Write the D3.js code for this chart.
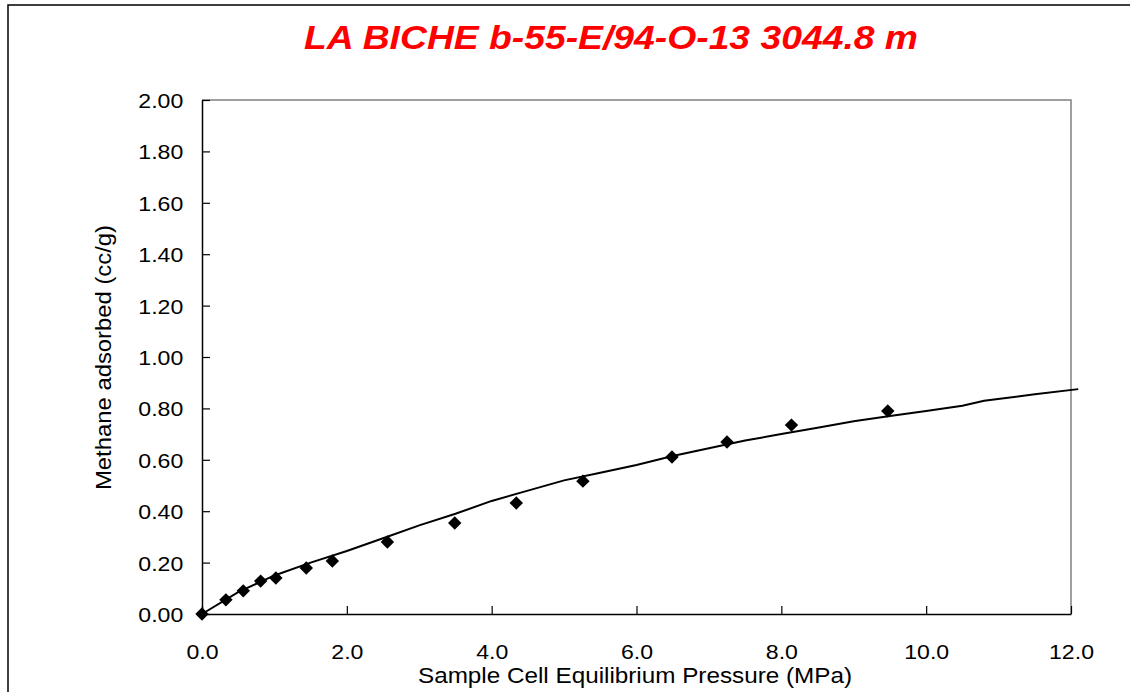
<!DOCTYPE html>
<html>
<head>
<meta charset="utf-8">
<script src="https://cdn.jsdelivr.net/npm/d3@7"></script>
<style>
  html, body { margin: 0; padding: 0; background: #fff; }
  svg { display: block; font-family: "Liberation Sans", Arial, sans-serif; }
</style>
</head>
<body>
<div id="chart"></div>
<script>
// measured isotherm points (pressure MPa, methane cc/g)
const pressure = [0, 0.33, 0.57, 0.81, 1.02, 1.44, 1.80, 2.56, 3.49, 4.34, 5.26, 6.49, 7.25, 8.14, 9.47];
const adsorbed = [0, 0.055, 0.09, 0.128, 0.14, 0.179, 0.206, 0.28, 0.354, 0.432, 0.517, 0.611, 0.669, 0.735, 0.79];

// fitted curve
const fitPressure = [0, 0.5, 1.0, 1.5, 2.0, 2.5, 3.0, 3.5, 4.0, 4.5, 5.0, 5.5, 6.0, 6.5, 7.0, 7.5, 8.0, 8.5, 9.0, 9.5, 10.0, 10.5, 10.8, 11.5, 12.1];
const fitAdsorbed = [0, 0.085, 0.15, 0.20, 0.245, 0.295, 0.345, 0.39, 0.44, 0.48, 0.52, 0.55, 0.58, 0.615, 0.645, 0.675, 0.70, 0.725, 0.75, 0.77, 0.79, 0.81, 0.83, 0.855, 0.875];

const xTicks = [0, 2, 4, 6, 8, 10, 12];
const yTicks = [0, 0.2, 0.4, 0.6, 0.8, 1.0, 1.2, 1.4, 1.6, 1.8, 2.0];

const titleText = "LA BICHE b-55-E/94-O-13 3044.8 m";
const xLabel = "Sample Cell Equilibrium Pressure (MPa)";
const yLabel = "Methane adsorbed (cc/g)";

const width = 1130, height = 692;
const plot = {left: 202, top: 100, right: 1071, bottom: 614};

// the original picture is a bit stretched sideways
const stretch = 1.1;

const svg = d3.select("#chart").append("svg")
  .attr("width", width)
  .attr("height", height);

// outer chart border (right and bottom fall off the page)
svg.append("rect")
  .attr("x", 8).attr("y", 5)
  .attr("width", 1140).attr("height", 700)
  .attr("fill", "none")
  .attr("stroke", "#000")
  .attr("stroke-width", 1.5);

const x = d3.scaleLinear([0, 12], [plot.left, plot.right]);
const y = d3.scaleLinear([0, 2], [plot.bottom, plot.top]);

// plot area frame (gray top/right)
svg.append("path")
  .attr("d", `M${plot.left},${plot.top}H${plot.right}V${plot.bottom}`)
  .attr("fill", "none")
  .attr("stroke", "#808080")
  .attr("stroke-width", 1.5);

// x axis, ticks pointing inward
const xAxis = svg.append("g")
  .attr("transform", `translate(0,${plot.bottom})`)
  .call(d3.axisBottom(x).tickValues(xTicks).tickSize(-8).tickSizeOuter(0).tickPadding(30).tickFormat(d3.format(".1f")));
xAxis.select(".domain").attr("stroke", "#000").attr("stroke-width", 1.5);
xAxis.selectAll(".tick line").attr("stroke-width", 1.2);
xAxis.selectAll("text").attr("font-size", 21).attr("fill", "#000")
  .attr("font-family", "'Liberation Sans', Arial, sans-serif")
  .attr("transform", `scale(${stretch},1)`);

// y axis, ticks pointing inward
const yAxis = svg.append("g")
  .attr("transform", `translate(${plot.left},0)`)
  .call(d3.axisLeft(y).tickValues(yTicks).tickSize(-8).tickSizeOuter(0).tickPadding(17).tickFormat(d3.format(".2f")));
yAxis.select(".domain").attr("stroke", "#000").attr("stroke-width", 1.5);
yAxis.selectAll(".tick line").attr("stroke-width", 1.2);
yAxis.selectAll("text").attr("font-size", 21).attr("fill", "#000")
  .attr("dy", "0.36em")
  .attr("font-family", "'Liberation Sans', Arial, sans-serif")
  .attr("transform", `scale(${stretch},1)`);

// fitted curve
const line = d3.line()
  .x((d, i) => x(fitPressure[i]))
  .y(d => y(d));
svg.append("path")
  .attr("d", line(fitAdsorbed))
  .attr("fill", "none")
  .attr("stroke", "#000")
  .attr("stroke-width", 2);

// measured points as diamonds
const diamond = d3.symbol(d3.symbolSquare, 90);
svg.selectAll(".pt")
  .data(adsorbed)
  .enter()
  .append("path")
    .attr("class", "pt")
    .attr("d", diamond)
    .attr("transform", (d, i) => `translate(${x(pressure[i])},${y(d)}) rotate(45)`)
    .attr("fill", "#000");

// title
svg.append("text")
  .attr("x", 304)
  .attr("y", 49)
  .attr("font-size", 33.5)
  .attr("font-weight", "bold")
  .attr("font-style", "italic")
  .attr("fill", "#ff0000")
  .attr("textLength", 614)
  .attr("lengthAdjust", "spacingAndGlyphs")
  .text(titleText);

// axis labels
svg.append("text")
  .attr("x", 418)
  .attr("y", 683)
  .attr("font-size", 22)
  .attr("fill", "#000")
  .attr("textLength", 434)
  .attr("lengthAdjust", "spacingAndGlyphs")
  .text(xLabel);

svg.append("text")
  .attr("transform", "translate(111,490) rotate(-90)")
  .attr("font-size", 22)
  .attr("fill", "#000")
  .attr("textLength", 265)
  .attr("lengthAdjust", "spacingAndGlyphs")
  .text(yLabel);
</script>
</body>
</html>
